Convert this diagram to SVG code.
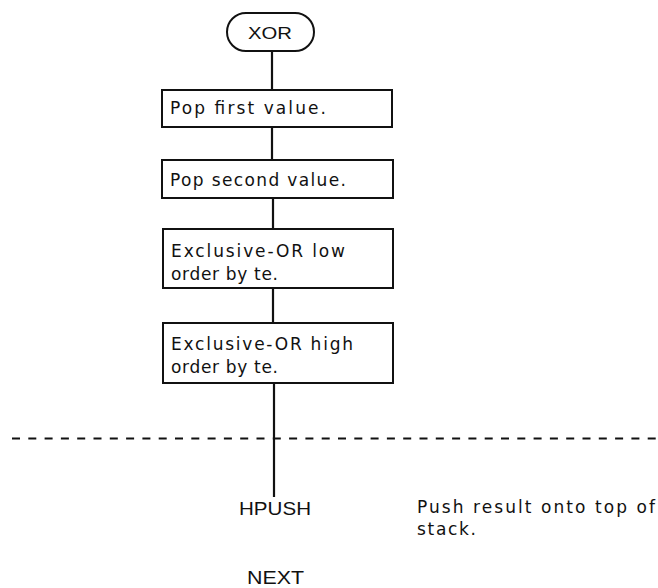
<svg xmlns="http://www.w3.org/2000/svg" width="658" height="588" viewBox="0 0 658 588">
<style>
.box{fill:#fff;stroke:#111;stroke-width:2}
.ln{stroke:#111;stroke-width:2.2;fill:none}
.dash{stroke:#111;stroke-width:2;stroke-dasharray:8 8.3;fill:none}
text{font-family:"DejaVu Sans","Liberation Sans",Arial,sans-serif;fill:#111}
.s{font-family:"Liberation Sans",Arial,sans-serif}
.t{font-size:17px}
.l{font-size:18px}
</style>
<rect width="658" height="588" fill="#fff"/>
<g id="connectors">
<line class="ln" x1="272" y1="51" x2="272" y2="90"/>
<line class="ln" x1="272" y1="127" x2="272" y2="160"/>
<line class="ln" x1="273" y1="198" x2="273" y2="229"/>
<line class="ln" x1="273" y1="288" x2="273" y2="323"/>
<line class="ln" x1="274" y1="383" x2="274" y2="497"/>
</g>
<line class="dash" x1="12" y1="438.5" x2="658" y2="438.5"/>
<g id="start">
<rect class="box" x="227" y="13" width="87" height="38" rx="19" ry="19"/>
<text class="s" x="248" y="39" font-size="16" textLength="44" lengthAdjust="spacingAndGlyphs">XOR</text>
</g>
<g id="pop1">
<rect class="box" x="162" y="90" width="230" height="37"/>
<text class="t" x="170" y="114" textLength="156" lengthAdjust="spacing">Pop first value.</text>
</g>
<g id="pop2">
<rect class="box" x="162" y="160" width="231" height="38"/>
<text class="t" x="170" y="186" textLength="176" lengthAdjust="spacing">Pop second value.</text>
</g>
<g id="xorlow">
<rect class="box" x="163" y="229" width="230" height="59"/>
<text class="t" x="171" y="257" textLength="174" lengthAdjust="spacing">Exclusive-OR low</text>
<text class="t" x="171" y="280" textLength="107" lengthAdjust="spacing">order by te.</text>
</g>
<g id="xorhigh">
<rect class="box" x="163" y="323" width="230" height="60"/>
<text class="t" x="171" y="350" textLength="182" lengthAdjust="spacing">Exclusive-OR high</text>
<text class="t" x="171" y="373" textLength="107" lengthAdjust="spacing">order by te.</text>
</g>
<g id="hpush">
<text class="l s" x="239" y="515" textLength="72" lengthAdjust="spacingAndGlyphs">HPUSH</text>
</g>
<g id="comment">
<text class="t" x="417" y="513" textLength="238" lengthAdjust="spacing">Push result onto top of</text>
<text class="t" x="417" y="535" textLength="59" lengthAdjust="spacing">stack.</text>
</g>
<g id="next">
<text class="l s" x="247" y="584" textLength="57" lengthAdjust="spacingAndGlyphs">NEXT</text>
</g>
</svg>
